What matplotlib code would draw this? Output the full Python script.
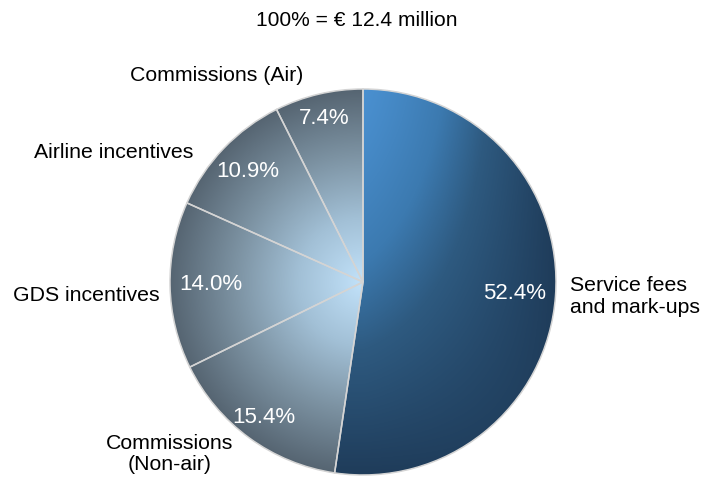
import numpy as np
import matplotlib
matplotlib.use("Agg")
import matplotlib.pyplot as plt
from matplotlib.colors import LinearSegmentedColormap

plt.rcParams['font.family'] = ['Liberation Sans', 'DejaVu Sans']

# data
categories = ["Service fees\nand mark-ups", "Commissions\n(Non-air)", "GDS incentives",
              "Airline incentives", "Commissions (Air)"]
shares = [52.4, 15.4, 14.0, 10.9, 7.4]
title = "100% = \u20ac 12.4 million"

fig = plt.figure(figsize=(7.02, 4.78), dpi=100)
ax = fig.add_axes([0, 0, 1, 1])

wedges, _ = ax.pie(shares, startangle=90, counterclock=False, radius=1,
                   wedgeprops=dict(edgecolor='#d4d4d4', linewidth=1.1))

ax.set_xlim(-363 / 193, 339 / 193)
ax.set_ylim(-196 / 193, 282 / 193)
ax.set_aspect('auto')
ax.axis('off')

# gradient fills, clipped to each wedge
n = 400
gx, gy = np.meshgrid(np.linspace(-1, 1, n), np.linspace(1, -1, n))
rr = np.sqrt(gx ** 2 + gy ** 2)

blue = LinearSegmentedColormap.from_list(
    'b', [(0, '#4a90d0'), (0.35, '#3c7ab0'), (0.6, '#2e5a80'), (1, '#1f3c5a')])
grey = LinearSegmentedColormap.from_list('g', ['#c2e2fa', '#a2c0d6', '#7c92a2', '#566572'])

# blue slice: light top-left, darker to the right and downwards
th = np.clip(gx, 0, 1) ** 1.2
tv = np.clip((1 - gy) / 2, 0, 1) ** 1.3
tb = 1 - (1 - th) * (1 - tv)
tg = np.clip(rr, 0, 1)

for i, w in enumerate(wedges):
    img = blue(tb) if i == 0 else grey(tg)
    im = ax.imshow(img, extent=(-1, 1, -1, 1), zorder=1, interpolation='bilinear')
    im.set_clip_path(w)
    w.set_facecolor('none')
    w.set_zorder(3)

# percentages inside the slices
pct_r = [0.79, 0.87, 0.79, 0.83, 0.87]
for w, v, r in zip(wedges, shares, pct_r):
    mid = np.deg2rad((w.theta1 + w.theta2) / 2)
    ax.text(r * np.cos(mid), r * np.sin(mid), f"{v:.1f}%", color='white',
            fontsize=16, ha='center', va='center', zorder=4)

# outside labels
ax.text(1.07, -0.075, categories[0], fontsize=15.3, ha='left', va='center', linespacing=1.15)
ax.text(-1.0, -0.89, categories[1], fontsize=15.3, ha='center', va='center', linespacing=1.15)
ax.text(-1.435, -0.07, categories[2], fontsize=15.3, ha='center', va='center')
ax.text(-1.29, 0.67, categories[3], fontsize=15.3, ha='center', va='center')
ax.text(-0.76, 1.07, categories[4], fontsize=15.3, ha='center', va='center')

fig.text(357 / 702, 1 - 20 / 478, title, fontsize=15.1, ha='center', va='center')

fig.savefig("out.png", dpi=100)
